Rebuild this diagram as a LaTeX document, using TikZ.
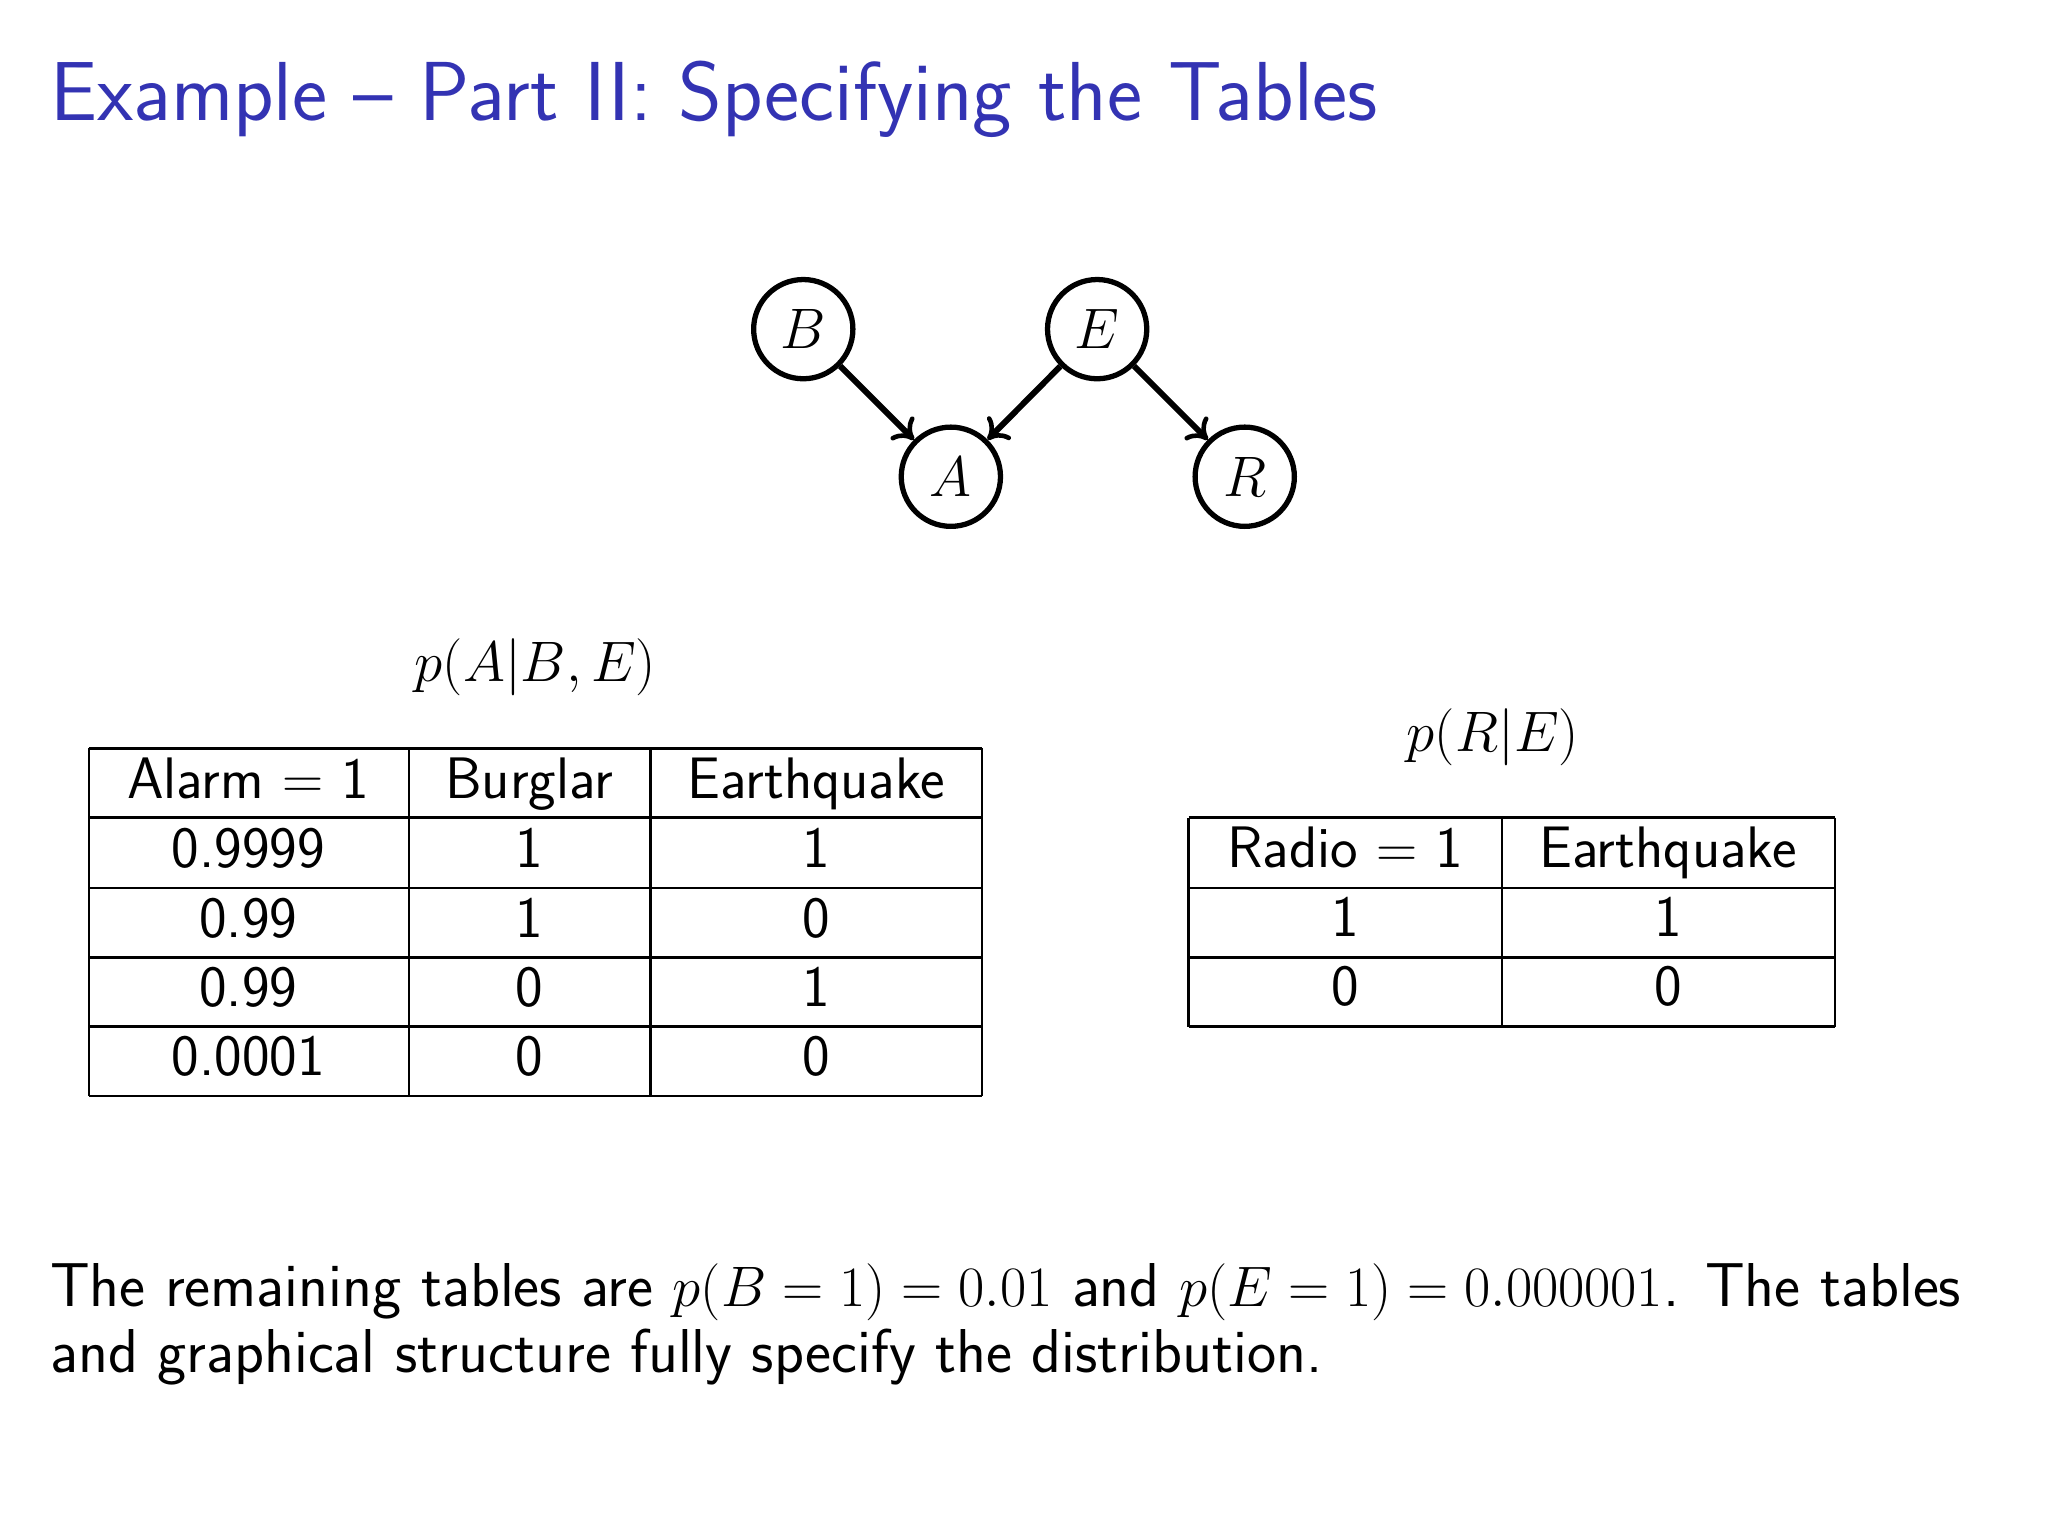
\documentclass[tikz,border=0pt]{standalone}
\renewcommand{\familydefault}{\sfdefault}
\usetikzlibrary{arrows.meta}
\definecolor{titleblue}{RGB}{51,51,179}
\begin{document}
\begin{tikzpicture}[x=0.02cm,y=-0.02cm,
  bn/.style={circle,draw,line width=2.3pt,minimum size=1.52cm,inner sep=0pt,font=\fontsize{25}{30}\selectfont},
  arr/.style={line width=2.6pt,-{To[length=8pt,width=14pt,line width=2pt]}},
  tl/.style={line width=1pt},
  tt/.style={font=\fontsize{25.5}{30}\selectfont,anchor=base,inner sep=0pt},
  body/.style={font=\fontsize{27}{32}\selectfont,anchor=base west,inner sep=0pt}]
\useasboundingbox (0,0) rectangle (1568,1176);
\node[anchor=base west,inner sep=0pt,text=titleblue,font=\fontsize{36.5}{42}\selectfont] (title) at (38,92) {Example -- Part II: Specifying the Tables};
\node[bn] (B) at (615,252) {$B$};
\node[bn] (E) at (840,252) {$E$};
\node[bn] (A) at (728,365) {$A$};
\node[bn] (R) at (953,365) {$R$};
\draw[arr] (B) -- (A);
\draw[arr] (E) -- (A);
\draw[arr] (E) -- (R);
\node[tt] (l1) at (410,522) {$p(A|B,E)$};
\node[tt] (l2) at (1143,575) {$p(R|E)$};
% left table
\foreach \y in {573,626,680,733,786,839} \draw[tl] (68,\y) -- (752,\y);
\foreach \x in {68,313,498,752} \draw[tl] (\x,573) -- (\x,839);
\node[tt] at (190,611) {Alarm $=$ 1};
\node[tt] at (405,611) {Burglar};
\node[tt] at (625,611) {Earthquake};
\foreach \a/\b/\c [count=\i] in {0.9999/1/1,0.99/1/0,0.99/0/1,0.0001/0/0}{
  \node[tt] at (190,611+53.2*\i) {\a};
  \node[tt] at (405,611+53.2*\i) {\b};
  \node[tt] at (625,611+53.2*\i) {\c};}
% right table
\foreach \y in {626,680,733,786} \draw[tl] (910,\y) -- (1405,\y);
\foreach \x in {910,1150,1405} \draw[tl] (\x,626) -- (\x,786);
\node[tt] at (1030,664) {Radio $=$ 1};
\node[tt] at (1277,664) {Earthquake};
\node[tt] at (1030,717) {1};
\node[tt] at (1277,717) {1};
\node[tt] at (1030,770) {0};
\node[tt] at (1277,770) {0};
\node[body] (t1) at (38,1000) {The remaining tables are $p(B=1)=0.01$ and $p(E=1)=0.000001$. The tables};
\node[body] (t2) at (38,1051) {and graphical structure fully specify the distribution.};
\end{tikzpicture}
\end{document}
